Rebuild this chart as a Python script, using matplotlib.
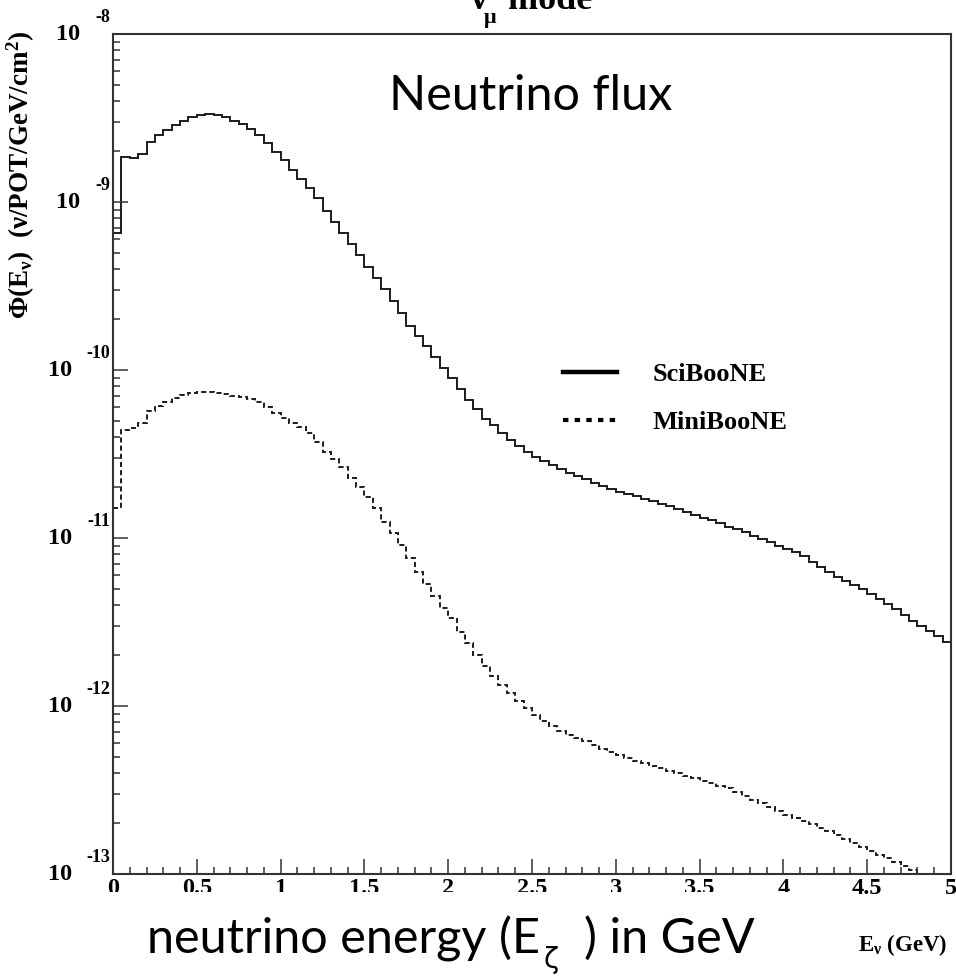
import numpy as np
import matplotlib
matplotlib.use("Agg")
import matplotlib.pyplot as plt
from matplotlib.patches import Rectangle
from matplotlib.lines import Line2D
from matplotlib.ticker import MultipleLocator, LogLocator, NullFormatter, FixedLocator
import matplotlib.transforms as mtransforms

plt.rcParams['mathtext.fontset'] = 'custom'
plt.rcParams['mathtext.rm'] = 'Liberation Serif'
plt.rcParams['mathtext.it'] = 'Liberation Serif:italic'
plt.rcParams['mathtext.bf'] = 'Liberation Serif:bold'

# ---------------- data ----------------
bin_edges = np.linspace(0.0, 5.0, 101)   # 100 bins of 0.05 GeV

sciboone = [
    6.5e-10, 1.86e-9, 1.82e-9, 1.92e-9, 2.29e-9, 2.50e-9, 2.68e-9, 2.87e-9, 3.05e-9, 3.22e-9,
    3.31e-9, 3.34e-9, 3.30e-9, 3.19e-9, 3.05e-9, 2.90e-9, 2.71e-9, 2.50e-9, 2.25e-9, 1.99e-9,
    1.78e-9, 1.55e-9, 1.37e-9, 1.21e-9, 1.05e-9, 8.88e-10, 7.63e-10, 6.51e-10, 5.62e-10, 4.84e-10,
    4.12e-10, 3.53e-10, 3.02e-10, 2.57e-10, 2.18e-10, 1.83e-10, 1.59e-10, 1.39e-10, 1.20e-10, 1.03e-10,
    8.93e-11, 7.71e-11, 6.65e-11, 5.82e-11, 5.14e-11, 4.69e-11, 4.22e-11, 3.84e-11, 3.52e-11, 3.26e-11,
    3.04e-11, 2.86e-11, 2.72e-11, 2.57e-11, 2.45e-11, 2.34e-11, 2.23e-11, 2.13e-11, 2.04e-11, 1.96e-11,
    1.89e-11, 1.82e-11, 1.77e-11, 1.71e-11, 1.65e-11, 1.60e-11, 1.54e-11, 1.49e-11, 1.43e-11, 1.38e-11,
    1.32e-11, 1.28e-11, 1.22e-11, 1.17e-11, 1.13e-11, 1.08e-11, 1.03e-11, 9.84e-12, 9.43e-12, 9.00e-12,
    8.62e-12, 8.20e-12, 7.81e-12, 7.20e-12, 6.72e-12, 6.28e-12, 5.86e-12, 5.55e-12, 5.25e-12, 4.97e-12,
    4.64e-12, 4.34e-12, 4.05e-12, 3.78e-12, 3.48e-12, 3.21e-12, 2.99e-12, 2.80e-12, 2.61e-12, 2.40e-12,
]

miniboone = [
    1.51e-11, 4.40e-11, 4.54e-11, 4.82e-11, 5.70e-11, 6.11e-11, 6.48e-11, 6.79e-11, 7.10e-11, 7.27e-11,
    7.37e-11, 7.37e-11, 7.27e-11, 7.17e-11, 7.00e-11, 6.88e-11, 6.69e-11, 6.42e-11, 6.05e-11, 5.52e-11,
    5.16e-11, 4.86e-11, 4.56e-11, 4.20e-11, 3.74e-11, 3.26e-11, 2.94e-11, 2.64e-11, 2.29e-11, 2.00e-11,
    1.75e-11, 1.50e-11, 1.25e-11, 1.07e-11, 9.09e-12, 7.57e-12, 6.30e-12, 5.32e-12, 4.52e-12, 3.82e-12,
    3.33e-12, 2.77e-12, 2.36e-12, 2.01e-12, 1.73e-12, 1.51e-12, 1.33e-12, 1.20e-12, 1.07e-12, 9.73e-13,
    8.84e-13, 8.14e-13, 7.60e-13, 7.10e-13, 6.72e-13, 6.45e-13, 6.19e-13, 5.86e-13, 5.55e-13, 5.32e-13,
    5.11e-13, 4.90e-13, 4.71e-13, 4.58e-13, 4.40e-13, 4.28e-13, 4.10e-13, 3.99e-13, 3.83e-13, 3.73e-13,
    3.58e-13, 3.48e-13, 3.34e-13, 3.25e-13, 3.08e-13, 2.91e-13, 2.76e-13, 2.65e-13, 2.50e-13, 2.37e-13,
    2.24e-13, 2.15e-13, 2.07e-13, 1.99e-13, 1.88e-13, 1.80e-13, 1.71e-13, 1.62e-13, 1.53e-13, 1.45e-13,
    1.37e-13, 1.30e-13, 1.25e-13, 1.18e-13, 1.12e-13, 1.06e-13, 9.9e-14, 9.4e-14, 8.9e-14, 8.5e-14,
]

series_labels = ["SciBooNE", "MiniBooNE"]
xtick_values = [0, 0.5, 1, 1.5, 2, 2.5, 3, 3.5, 4, 4.5, 5]
xtick_labels = ["0", "0.5", "1", "1.5", "2", "2.5", "3", "3.5", "4", "4.5", "5"]
ytick_exponents = [-13, -12, -11, -10, -9, -8]

# ---------------- figure ----------------
W, H = 956, 977
fig = plt.figure(figsize=(W / 100, H / 100), dpi=100)
fig.patch.set_facecolor("white")
ax = fig.add_axes([113 / W, (H - 874) / H, 838 / W, 840 / H])

line_col = "#1c1c1c"
ax.stairs(sciboone, bin_edges, baseline=None, color=line_col, lw=1.4)
ax.stairs(miniboone, bin_edges, baseline=None, color=line_col, lw=1.4,
          linestyle=(0, (2.6, 1.6)))

ax.set_yscale("log")
ax.set_xlim(0, 5)
ax.set_ylim(1e-13, 1e-8)

for s in ["left", "bottom", "top", "right"]:
    ax.spines[s].set_color("#333333")
    ax.spines[s].set_linewidth(1.5)

ax.xaxis.set_major_locator(FixedLocator(xtick_values))
ax.xaxis.set_minor_locator(MultipleLocator(0.1))
ax.yaxis.set_major_locator(LogLocator(base=10, numticks=20))
ax.yaxis.set_minor_locator(LogLocator(base=10, subs=np.arange(2, 10), numticks=20))
ax.yaxis.set_major_formatter(NullFormatter())
ax.yaxis.set_minor_formatter(NullFormatter())
ax.tick_params(which="both", direction="in", top=False, right=False, color="#333333")
ax.tick_params(which="major", length=10.8, width=1.1)
ax.tick_params(which="minor", length=5.2, width=1.1)
ax.set_xticklabels(xtick_labels, fontfamily="Liberation Serif", fontweight="bold", fontsize=17.5)
ax.tick_params(axis="x", pad=3)

# y tick labels in ROOT style: "10" with raised exponent
ytrans = ax.get_yaxis_transform()
exp_trans = mtransforms.offset_copy(ytrans, fig=fig, x=0, y=17, units="dots")
for e in ytick_exponents:
    yv = 10.0 ** e
    base_right = 80 if len(str(abs(e))) == 1 else 72
    ax.text((base_right - 113) / 838, yv, "10", transform=ytrans, ha="right", va="center",
            fontfamily="Liberation Serif", fontweight="bold", fontsize=17.5)
    ax.text((110 - 113) / 838, yv, "-%d" % abs(e), transform=exp_trans, ha="right", va="center",
            fontfamily="Liberation Serif", fontweight="bold", fontsize=13)

# legend
handles = [Line2D([], [], color="black", lw=3.2),
           Line2D([], [], color="black", lw=3.0, linestyle=(0, (1.3, 1.5)))]
ax.legend(handles, series_labels, loc="upper left", bbox_to_anchor=(0.537, 0.609),
          frameon=False, borderpad=0, borderaxespad=0, handlelength=2.05, handletextpad=1.35,
          labelspacing=0.94, prop={"family": "Liberation Serif", "weight": "bold", "size": 19})

# title (cut off at top in the original): nu, subscript mu, "mode"
serif_b = dict(fontfamily="Liberation Serif", fontweight="bold")
fig.text(470 / W, 1 - 9 / H, "ν", ha="left", va="baseline", fontsize=26, **serif_b)
fig.text(484 / W, 1 - 23 / H, "μ", ha="left", va="baseline", fontsize=16, **serif_b)
fig.text(508 / W, 1 - 9 / H, "mode", ha="left", va="baseline", fontsize=26, **serif_b)

# y axis label
fig.text(21 / W, 1 - 175 / H, r"$\mathbf{\Phi(E_{\nu})\ \ (\nu/POT/GeV/cm^{2})}$",
         rotation=90, ha="center", va="center", fontsize=19.5)

# small x-axis title
fig.text(858 / W, 1 - 951 / H, r"$\mathbf{E_{\nu}}$ (GeV)", ha="left", va="baseline",
         fontsize=16.5, fontfamily="Liberation Serif", fontweight="bold")

# annotation texts
sans = ["Lato", "DejaVu Sans"]
fig.text(389 / W, 1 - 110 / H, "Neutrino flux", ha="left", va="baseline",
         fontsize=35, fontfamily=sans)

# white box that hides the lower part of the tick labels (as in the slide)
fig.patches.append(Rectangle((0, 0), 850 / W, (H - 892) / H, transform=fig.transFigure,
                             facecolor="white", edgecolor="none", zorder=5))

fig.canvas.draw()
r = fig.canvas.get_renderer()
base_y = 1 - 953 / H
t1 = fig.text(147 / W, base_y, "neutrino energy (E", ha="left", va="baseline",
              fontsize=35, fontfamily=sans, zorder=10)
bb1 = t1.get_window_extent(r)
t2 = fig.text(bb1.x1 / W + 4 / W, 1 - 968 / H, "ζ", ha="left", va="baseline",
              fontsize=20, fontfamily=["DejaVu Sans"], zorder=10)
bb2 = t2.get_window_extent(r)
t3 = fig.text(bb2.x1 / W, base_y, "  ) in GeV", ha="left", va="baseline",
              fontsize=35, fontfamily=sans, zorder=10)

fig.savefig("out.png", dpi=100, facecolor="white")
